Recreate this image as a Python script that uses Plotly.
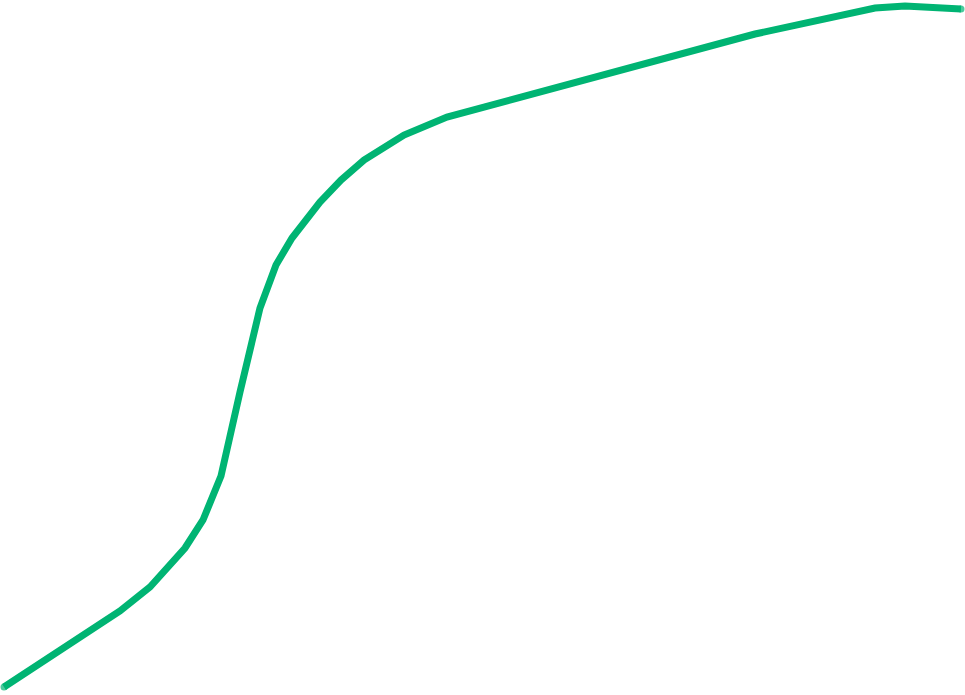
import plotly.graph_objects as go

x_vals = [4, 120, 150, 185, 203, 221, 240, 260, 276, 292, 320, 341, 364, 404, 447, 600, 755, 875, 905, 961]
y_vals = [8, 84, 108, 147, 175, 219, 303, 387, 430, 457, 493, 515, 535, 560, 578, 619, 661, 687, 689, 686]

line_color = "rgb(0,180,115)"
sizes = [7] + [0] * (len(x_vals) - 2) + [7]

fig = go.Figure(go.Scatter(
    x=x_vals, y=y_vals, mode="lines+markers",
    line=dict(color=line_color, width=7),
    marker=dict(color=line_color, size=sizes, line=dict(width=0)),
    hoverinfo="skip", showlegend=False,
))
fig.update_layout(
    width=965, height=695,
    margin=dict(l=0, r=0, t=0, b=0),
    paper_bgcolor="white", plot_bgcolor="white",
    xaxis=dict(visible=False, range=[0, 965], fixedrange=True),
    yaxis=dict(visible=False, range=[0, 695], fixedrange=True),
)
fig.write_html("out.html", config={"displayModeBar": False})

with open("out.html", "r", encoding="utf-8") as f:
    html = f.read()
html = html.replace("<body>", '<body style="margin:0;padding:0;overflow:hidden;">', 1)
with open("out.html", "w", encoding="utf-8") as f:
    f.write(html)
